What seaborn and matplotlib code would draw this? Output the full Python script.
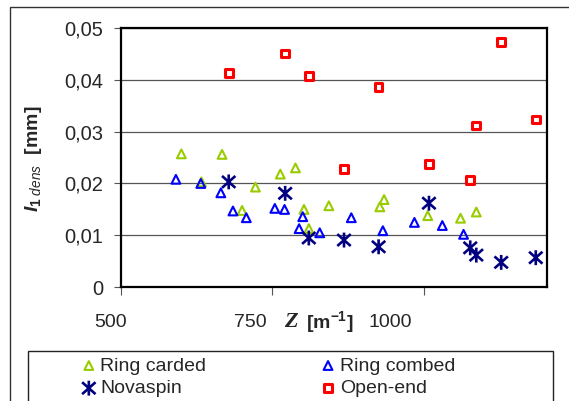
import numpy as np
import pandas as pd
import matplotlib
matplotlib.use("Agg")
import matplotlib.pyplot as plt
import matplotlib.transforms as mtransforms
from matplotlib.path import Path
from matplotlib.patches import Rectangle
from matplotlib.ticker import FuncFormatter
import seaborn as sns

# ---- data ----
carded_z = [600, 633, 667, 700, 722, 763, 788, 802, 810, 843, 927, 934, 1006, 1060, 1086]
carded_i = [0.0257, 0.0203, 0.0256, 0.0148, 0.0193, 0.0218, 0.0230, 0.0150, 0.0113,
            0.0157, 0.0155, 0.0169, 0.0138, 0.0133, 0.0145]
combed_z = [591, 632, 665, 685, 707, 754, 770, 800, 794, 828, 880, 932, 984, 1030, 1065]
combed_i = [0.0208, 0.0200, 0.0182, 0.0147, 0.0134, 0.0152, 0.0150, 0.0136, 0.0113,
            0.0105, 0.0134, 0.0109, 0.0125, 0.0119, 0.0102]
nova_z = [678, 771, 810, 868, 925, 1008, 1076, 1086, 1127, 1184]
nova_i = [0.0203, 0.0181, 0.0095, 0.0091, 0.0078, 0.0162, 0.0076, 0.0062, 0.0048, 0.0057]
open_z = [678, 771, 810, 868, 925, 1008, 1076, 1086, 1127, 1184]
open_i = [0.0413, 0.0450, 0.0407, 0.0228, 0.0386, 0.0238, 0.0207, 0.0312, 0.0473, 0.0323]

x_ticks = [500, 750, 1000]
x_tick_labels = ['500', '750', '1000']
y_ticks = [0, 0.01, 0.02, 0.03, 0.04, 0.05]

sns.set_style("ticks")
plt.rcParams['font.family'] = ['Liberation Sans', 'DejaVu Sans']
plt.rcParams['mathtext.fontset'] = 'custom'
plt.rcParams['mathtext.rm'] = 'Liberation Sans:bold'
plt.rcParams['mathtext.it'] = 'Liberation Sans:italic'
plt.rcParams['mathtext.bf'] = 'Liberation Sans:bold'
plt.rcParams['mathtext.bfit'] = 'Liberation Sans:bold:italic'

W, H = 569, 401
fig = plt.figure(figsize=(W / 100, H / 100), dpi=100)
fig.patch.set_facecolor('white')

def px(x0, y0):
    return x0 / W, 1 - y0 / H

ax_l, ax_r, ax_t, ax_b = 120.7, 547.3, 27.7, 287.3
ax = fig.add_axes([ax_l / W, 1 - ax_b / H, (ax_r - ax_l) / W, (ax_b - ax_t) / H])

# asterisk marker (vertical bar + X)
ast = Path([(0, -1), (0, 1), (-0.9, -0.8), (0.9, 0.8), (-0.9, 0.8), (0.9, -0.8)],
           [Path.MOVETO, Path.LINETO, Path.MOVETO, Path.LINETO, Path.MOVETO, Path.LINETO])

green, blue, navy, red = '#99CC00', '#0000FF', '#000080', '#FF0000'

sns.scatterplot(x=carded_z, y=carded_i, marker='^', s=40, color=green,
                facecolors='none', edgecolors=green, linewidths=1.5,
                ax=ax, label='Ring carded', legend=False, zorder=3)
sns.scatterplot(x=combed_z, y=combed_i, marker='^', s=40, color=blue,
                facecolors='none', edgecolors=blue, linewidths=1.5,
                ax=ax, label='Ring combed', legend=False, zorder=3)
sns.scatterplot(x=nova_z, y=nova_i, marker=ast, s=115, color=navy,
                facecolors='none', edgecolors=navy, linewidths=1.9,
                ax=ax, label='Novaspin', legend=False, zorder=4)
sns.scatterplot(x=open_z, y=open_i, marker='s', s=30, color=red,
                facecolors='none', edgecolors=red, linewidths=2.2,
                ax=ax, label='Open-end', legend=False, zorder=3)

ax.set_xlim(500, 1203)
ax.set_ylim(0, 0.05)
ax.set_xticks(x_ticks)
ax.set_xticklabels([])
ax.set_yticks(y_ticks)
ax.yaxis.set_major_formatter(FuncFormatter(lambda v, p: '0' if abs(v) < 1e-9 else f'{v:.2f}'.replace('.', ',')))
ax.grid(axis='y', color='#555555', linewidth=0.9)
ax.grid(axis='x', visible=False)
ax.set_axisbelow(True)
for s in ax.spines.values():
    s.set_linewidth(1.6)
    s.set_color('black')
ax.tick_params(axis='y', direction='out', length=5.3, width=0.8, color='#555555',
               labelsize=14.5, pad=7.0)
ax.tick_params(axis='x', direction='out', length=6, width=0.8, color='#555555')
ax.set_xlabel('')
ax.set_ylabel('')

# x tick labels (positioned via data scale, shifted as in the original)
blend = mtransforms.blended_transform_factory(ax.transData, ax.transAxes)
shifts = [-10, -22, -33.5]
for v, lab, dx in zip(x_ticks, x_tick_labels, shifts):
    tr = blend + mtransforms.ScaledTranslation(dx / 100, 0, fig.dpi_scale_trans)
    ax.text(v, -0.1337, lab, transform=tr, ha='center', va='center', fontsize=14,
            clip_on=False)

# axis labels
fig.text(*px(291, 322), 'Z', family='Liberation Serif', weight='bold', style='italic',
         fontsize=16, ha='center', va='center')
fig.text(*px(306, 322), r'[m$^{-1}$]', weight='bold', fontsize=14, ha='left', va='center')
fig.text(*px(33, 159), r'$\mathbfit{I}_{\mathit{1\ dens}}$  [mm]', weight='bold', fontsize=14,
         rotation=90, ha='center', va='center')

# legend
h, l = ax.get_legend_handles_labels()
order = ['Ring carded', 'Novaspin', 'Ring combed', 'Open-end']
hd = dict(zip(l, h))
fig.legend([hd[k] for k in order], order, loc='upper left', bbox_to_anchor=px(83, 357),
           ncol=2, frameon=False, fontsize=14, handlelength=0.6, handletextpad=0.3,
           columnspacing=5.95, labelspacing=0.26, borderpad=0, borderaxespad=0)

# legend frame and outer frame
fig.patches.append(Rectangle(px(28, 410), (553 - 28) / W, (410 - 351) / H, fill=False,
                             lw=1.0, edgecolor='#222222', transform=fig.transFigure))
fig.patches.append(Rectangle(px(9.5, 420), 1.1, (420 - 7) / H, fill=False,
                             lw=1.0, edgecolor='#333333', transform=fig.transFigure))

fig.savefig('out.png', dpi=100)
